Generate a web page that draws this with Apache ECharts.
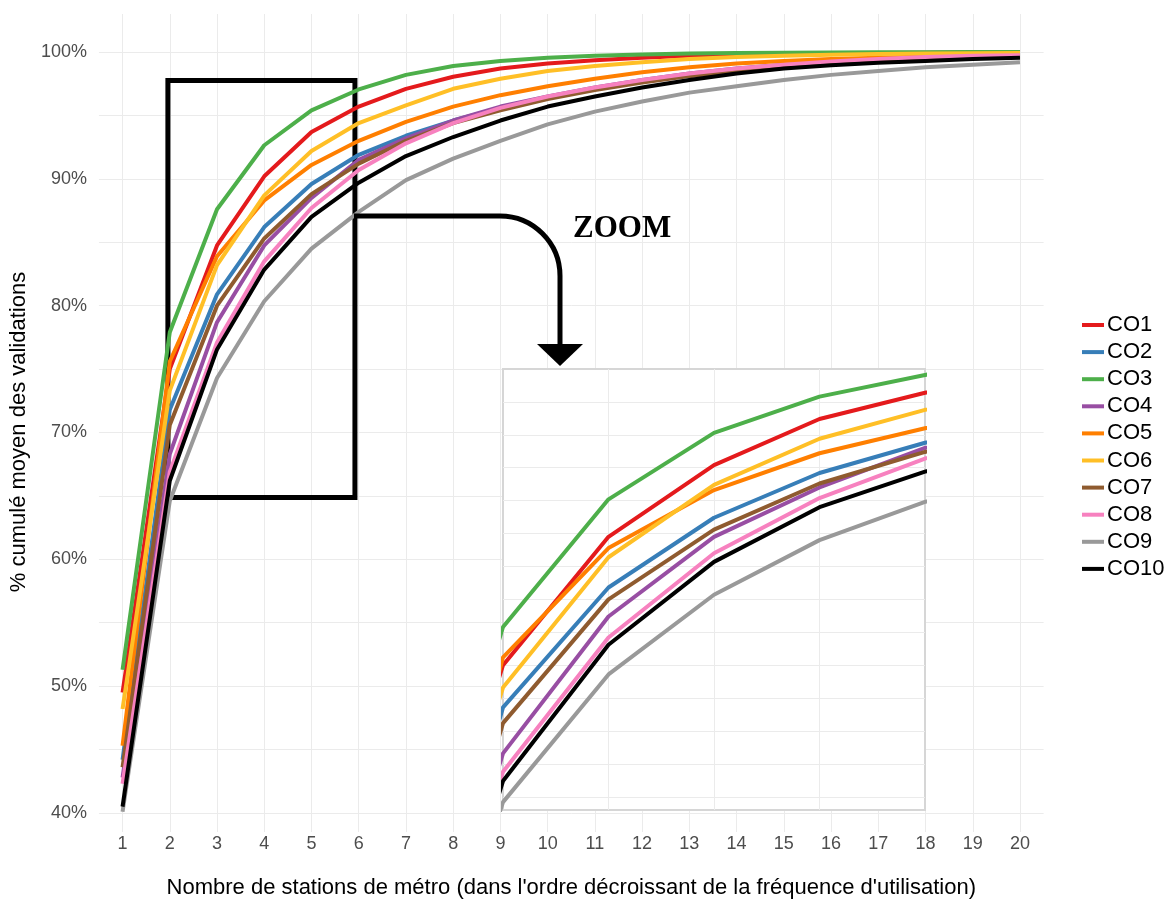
<!DOCTYPE html>
<html>
<head>
<meta charset="utf-8">
<script src="https://cdn.jsdelivr.net/npm/echarts@6/dist/echarts.min.js"></script>
<style>html,body{margin:0;padding:0;background:#fff;}#c{width:1167px;height:905px;}</style>
</head>
<body>
<div id="c"></div>
<script>
// ---- data ----
var stations = [1,2,3,4,5,6,7,8,9,10,11,12,13,14,15,16,17,18,19,20];
var seriesNames = ['CO1','CO2','CO3','CO4','CO5','CO6','CO7','CO8','CO9','CO10'];
var CO1  = [49.5,75.0,84.75,90.2,93.7,95.7,97.1,98.05,98.7,99.1,99.35,99.55,99.7,99.8,99.85,99.9,99.92,99.95,99.97,100];
var CO2  = [44.2,71.8,80.9,86.2,89.6,91.9,93.4,94.6,95.6,96.4,97.1,97.7,98.2,98.6,98.9,99.15,99.35,99.5,99.6,99.7];
var CO3  = [51.3,77.9,87.6,92.65,95.4,97.05,98.2,98.9,99.3,99.55,99.7,99.8,99.88,99.92,99.95,99.97,99.98,99.99,100,100];
var CO4  = [42.8,68.3,78.7,84.75,88.5,91.5,93.2,94.6,95.7,96.5,97.2,97.8,98.3,98.7,99.0,99.2,99.4,99.55,99.65,99.72];
var CO5  = [45.3,75.6,83.9,88.3,91.1,93.0,94.5,95.7,96.6,97.3,97.9,98.4,98.8,99.1,99.3,99.45,99.55,99.65,99.72,99.8];
var CO6  = [48.2,73.3,83.2,88.7,92.2,94.4,95.8,97.1,97.9,98.5,98.9,99.2,99.45,99.6,99.7,99.78,99.84,99.88,99.9,99.92];
var CO7  = [43.6,70.6,80.0,85.3,88.8,91.2,93.0,94.4,95.4,96.3,97.0,97.6,98.1,98.5,98.85,99.1,99.3,99.45,99.58,99.68];
var CO8  = [42.3,66.9,77.1,83.5,87.7,90.7,92.8,94.4,95.6,96.5,97.2,97.8,98.3,98.7,99.0,99.25,99.45,99.6,99.7,99.75];
var CO9  = [40.1,64.6,74.3,80.35,84.5,87.4,89.9,91.6,93.0,94.3,95.3,96.1,96.8,97.3,97.8,98.2,98.5,98.8,99.0,99.2];
var CO10 = [40.5,66.2,76.55,82.85,87.0,89.7,91.8,93.3,94.6,95.7,96.5,97.2,97.8,98.3,98.7,98.95,99.15,99.3,99.45,99.55];
var allValues = [CO1,CO2,CO3,CO4,CO5,CO6,CO7,CO8,CO9,CO10];
var colors = ['#E41A1C','#377EB8','#4DAF4A','#984EA3','#FF7F00','#FFBF26','#8F5B2F','#F781BF','#999999','#000000'];

var yTickLabels = [40,50,60,70,80,90,100];
var yGridMain = [40,45,50,55,60,65,70,75,80,85,90,95,100];
var insetXGrid = [3,4,5];
var insetYGrid = [65,67.5,70,72.5,75,77.5,80,82.5,85,87.5,90,92.5,95];
var zoomBox = [[1.96, 97.75],[5.92, 64.87]];

// ---- chart ----
var chart = echarts.init(document.getElementById('c'), null, {renderer:'canvas'});
var FONT = 'Liberation Sans, Arial, sans-serif';
var gridColor = '#ebebeb';

var series = [];
seriesNames.forEach(function(n, i){
  var d = stations.map(function(x, k){ return [x, allValues[i][k]]; });
  series.push({name:n, type:'line', xAxisIndex:0, yAxisIndex:0, data:d, showSymbol:false, symbol:'none',
    lineStyle:{width:4, color:colors[i], join:'round'}, itemStyle:{color:colors[i]}, z:2, animation:false});
});
seriesNames.forEach(function(n, i){
  var d = stations.map(function(x, k){ return [x, allValues[i][k]]; });
  series.push({name:n, type:'line', xAxisIndex:1, yAxisIndex:1, data:d, showSymbol:false, symbol:'none', clip:true,
    lineStyle:{width:4, color:colors[i]}, itemStyle:{color:colors[i]}, z:5, animation:false});
});
series.push({name:'box', type:'line', xAxisIndex:0, yAxisIndex:0, data:[], z:4, animation:false,
  markArea:{silent:true, itemStyle:{color:'rgba(0,0,0,0)', borderColor:'#000', borderWidth:5},
    data:[[{coord:zoomBox[0]},{coord:zoomBox[1]}]]}});

var option = {
  backgroundColor:'#fff',
  animation:false,
  color: colors,
  grid:[
    {left:98.4, right:123.4, top:14, bottom:73, containLabel:false},
    {left:503, right:242, top:369, bottom:95, show:true, backgroundColor:'#fff', borderColor:'#d6d6d6', borderWidth:2, z:3}
  ],
  legend:{
    data: seriesNames, orient:'vertical', left:1077, top:309,
    icon:'rect', itemWidth:22, itemHeight:4, itemGap:5.1,
    textStyle:{fontFamily:FONT, fontSize:22, color:'#000', lineHeight:22, padding:[0,0,0,-2]}
  },
  xAxis:[
    {type:'value', gridIndex:0, min:0.5, max:20.5,
     axisLine:{show:false}, axisTick:{show:false, customValues:stations},
     axisLabel:{customValues:stations, fontFamily:FONT, fontSize:18, color:'#4D4D4D', margin:3},
     splitLine:{show:true, lineStyle:{color:gridColor, width:1}},
     name:"Nombre de stations de métro (dans l'ordre décroissant de la fréquence d'utilisation)",
     nameLocation:'middle', nameGap:45, nameTextStyle:{fontFamily:FONT, fontSize:22, color:'#000'}},
    {type:'value', gridIndex:1, min:2, max:6, z:4,
     axisLine:{show:false}, axisTick:{show:false, customValues:insetXGrid}, axisLabel:{show:false, customValues:insetXGrid},
     splitLine:{show:true, lineStyle:{color:gridColor, width:1}}}
  ],
  yAxis:[
    {type:'value', gridIndex:0, min:38.5, max:103,
     axisLine:{show:false}, axisTick:{show:false, customValues:yGridMain},
     axisLabel:{customValues:yTickLabels, formatter:function(v){return v+'%';}, fontFamily:FONT, fontSize:18, color:'#4D4D4D', margin:12},
     splitLine:{show:true, lineStyle:{color:gridColor, width:1}},
     name:'% cumulé moyen des validations', nameLocation:'middle', nameRotate:90, nameGap:65,
     nameTextStyle:{fontFamily:FONT, fontSize:22, color:'#000', padding:[0,18,0,0]}},
    {type:'value', gridIndex:1, min:64, max:97.5, z:4,
     axisLine:{show:false}, axisTick:{show:false, customValues:insetYGrid}, axisLabel:{show:false, customValues:insetYGrid},
     splitLine:{show:true, lineStyle:{color:gridColor, width:1}}}
  ],
  graphic:[
    {type:'line', z:50, shape:{x1:354, y1:216, x2:500, y2:216}, style:{stroke:'#000', lineWidth:5}},
    {type:'arc', z:50, shape:{cx:500, cy:276, r:60, startAngle:-Math.PI/2, endAngle:0}, style:{stroke:'#000', lineWidth:5, fill:null}},
    {type:'line', z:50, shape:{x1:560, y1:276, x2:560, y2:346}, style:{stroke:'#000', lineWidth:5}},
    {type:'polygon', z:50, shape:{points:[[537,344],[583,344],[560,366]]}, style:{fill:'#000'}},
    {type:'text', z:50, left:573, top:213, style:{text:'ZOOM', fontFamily:'Liberation Serif, Times New Roman, serif', fontWeight:'bold', fontSize:31, fill:'#000'}}
  ],
  series: series
};
chart.setOption(option);
</script>
</body>
</html>
